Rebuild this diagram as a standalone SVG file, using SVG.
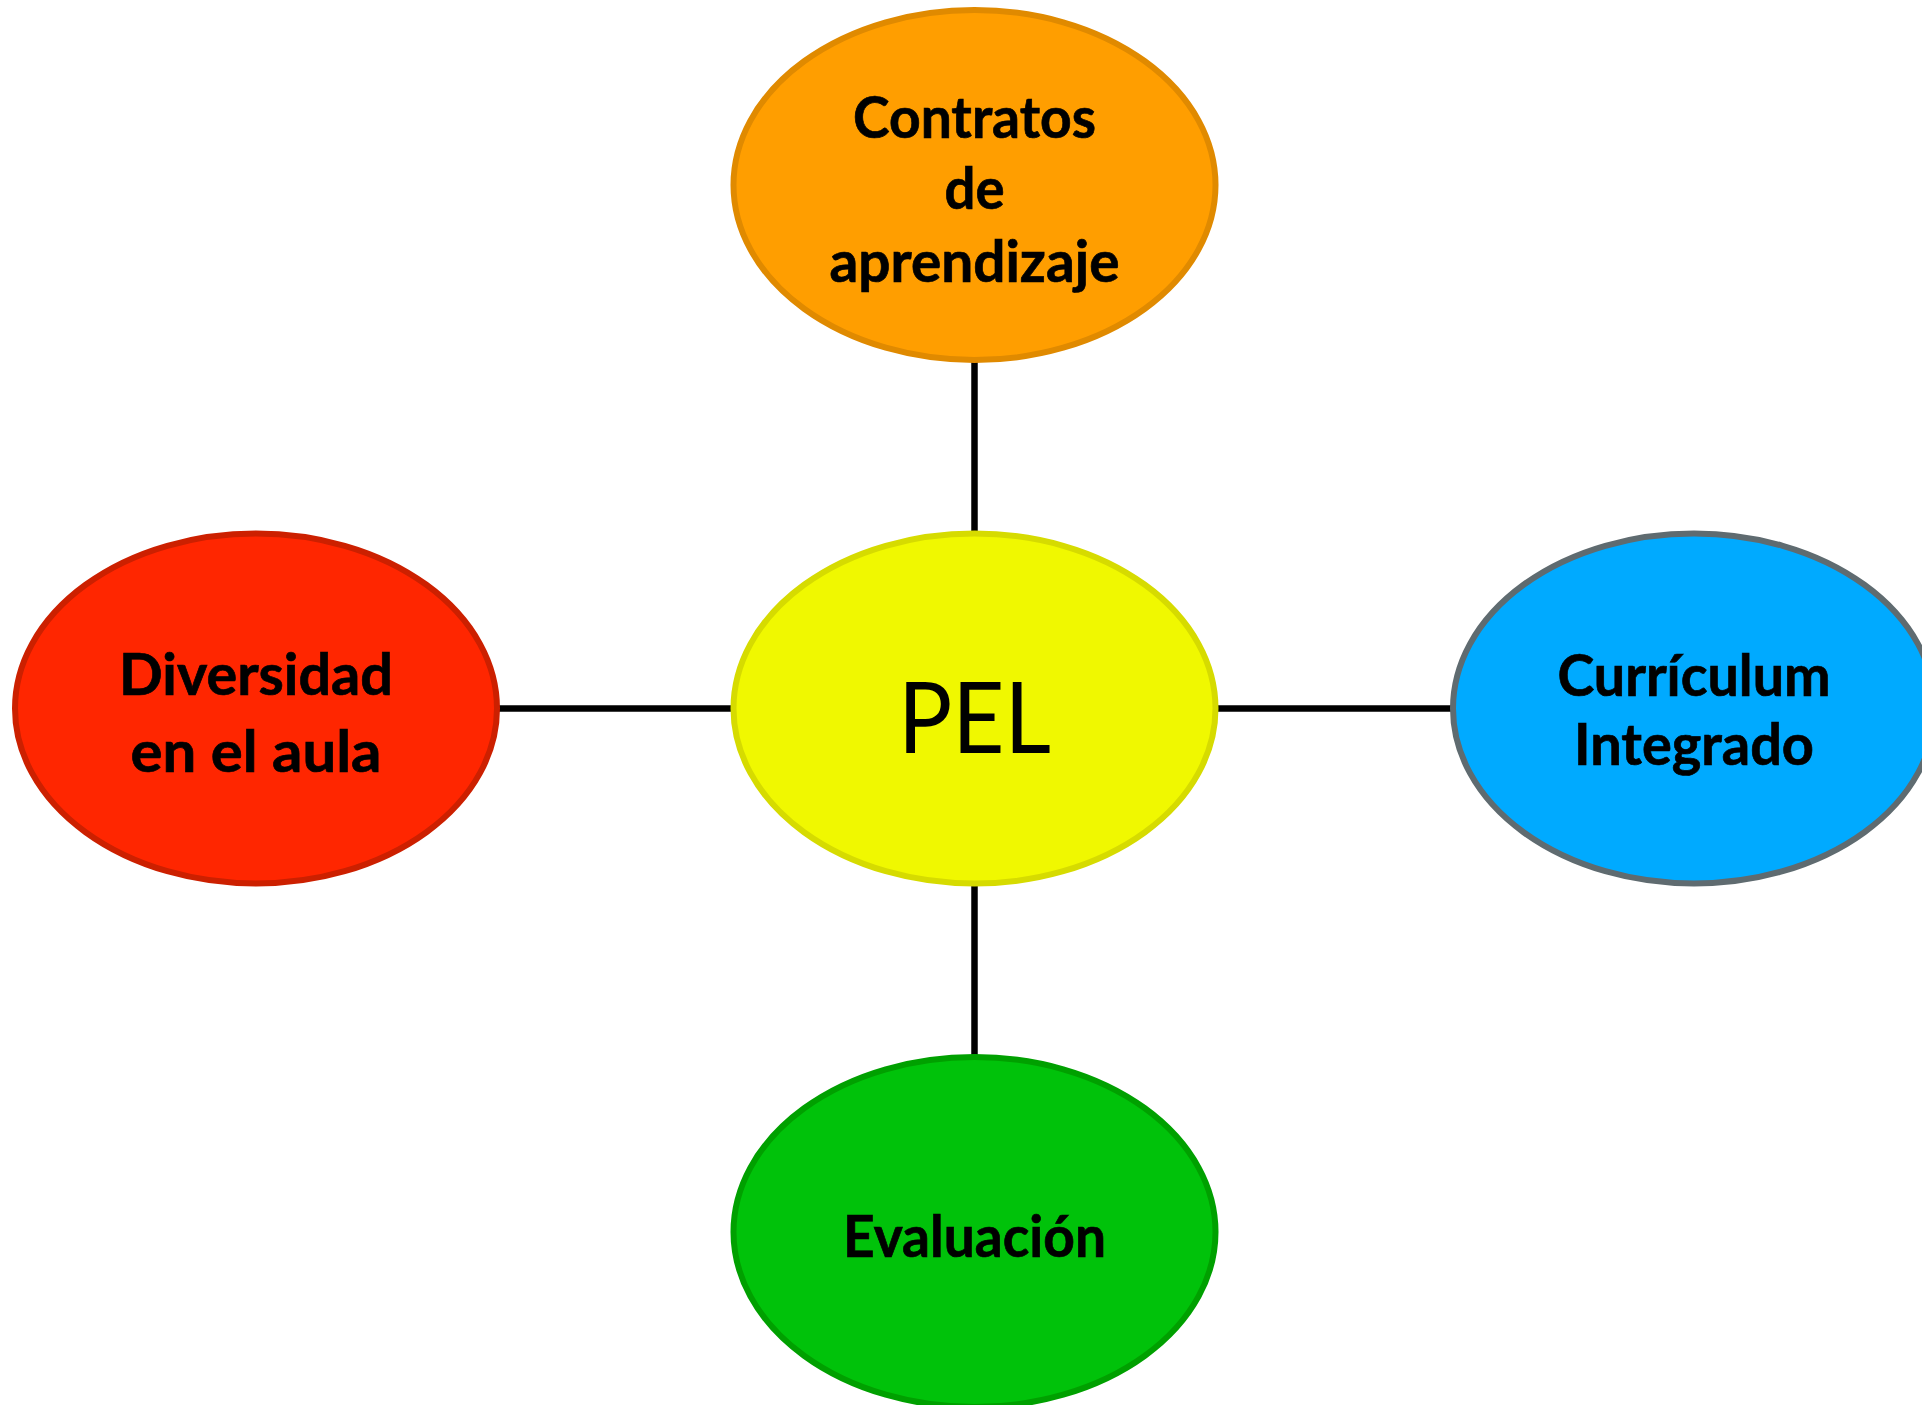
<svg xmlns="http://www.w3.org/2000/svg" width="1922" height="1405" viewBox="0 0 1922 1405">
<style>
.lbl{font-family:Lato,"Open Sans","Liberation Sans",sans-serif;font-weight:bold;font-size:58px;fill:#000;stroke:#000;stroke-width:0.7;text-anchor:middle}
.pel{font-family:Lato,"Open Sans","Liberation Sans",sans-serif;font-weight:normal;font-size:98px;fill:#000;text-anchor:middle}
.conn{stroke:#000;stroke-width:6.5;fill:none}
ellipse{stroke-width:6}
</style>
<rect width="1922" height="1405" fill="#fff"/>
<g id="connectors">
<line class="conn" x1="974.5" y1="360" x2="974.5" y2="534"/>
<line class="conn" x1="974.5" y1="883" x2="974.5" y2="1058"/>
<line class="conn" x1="497" y1="708.5" x2="734" y2="708.5"/>
<line class="conn" x1="1215" y1="708.5" x2="1453" y2="708.5"/>
</g>
<g id="node-contratos">
<ellipse cx="974.5" cy="185" rx="241" ry="175" fill="#FF9E00" stroke="#E08A00"/>
<text class="lbl" x="974.5" y="137.5" textLength="243" lengthAdjust="spacingAndGlyphs">Contratos</text>
<text class="lbl" x="974.5" y="209" textLength="60" lengthAdjust="spacingAndGlyphs">de</text>
<text class="lbl" x="974.5" y="281.5" textLength="290" lengthAdjust="spacingAndGlyphs">aprendizaje</text>
</g>
<g id="node-pel">
<ellipse cx="974.5" cy="708.5" rx="241" ry="175" fill="#F0F800" stroke="#D6DB00"/>
<text class="pel" x="974.5" y="752.5" textLength="153" lengthAdjust="spacingAndGlyphs">PEL</text>
</g>
<g id="node-diversidad">
<ellipse cx="256" cy="708.5" rx="241" ry="175" fill="#FF2600" stroke="#CC2000"/>
<text class="lbl" x="256" y="695" textLength="274" lengthAdjust="spacingAndGlyphs">Diversidad</text>
<text class="lbl" x="256" y="772" textLength="251" lengthAdjust="spacingAndGlyphs">en el aula</text>
</g>
<g id="node-curriculum">
<ellipse cx="1694" cy="708.5" rx="241" ry="175" fill="#00AAFF" stroke="#5F6B70"/>
<text class="lbl" x="1694" y="696" textLength="273" lengthAdjust="spacingAndGlyphs">Currículum</text>
<text class="lbl" x="1694" y="765" textLength="240" lengthAdjust="spacingAndGlyphs">Integrado</text>
</g>
<g id="node-evaluacion">
<ellipse cx="974.5" cy="1232" rx="241" ry="175" fill="#00C20A" stroke="#00A000"/>
<text class="lbl" x="974.5" y="1256.5" textLength="263" lengthAdjust="spacingAndGlyphs">Evaluación</text>
</g>
</svg>
